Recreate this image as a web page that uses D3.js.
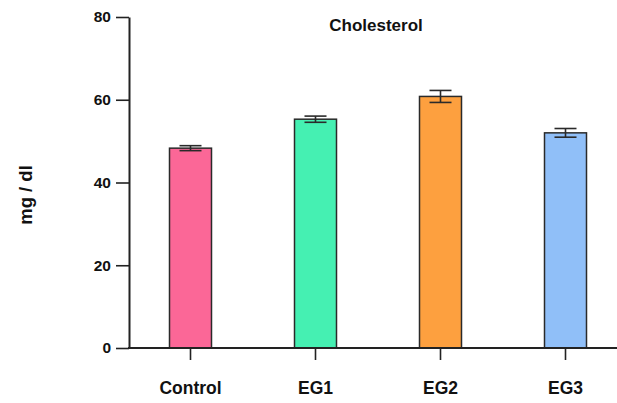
<!DOCTYPE html>
<html>
<head>
<meta charset="utf-8">
<script src="https://cdn.jsdelivr.net/npm/d3@7"></script>
<style>
  body { margin: 0; background: #fff; }
  svg text { font-family: "Liberation Sans", Arial, sans-serif; font-weight: bold; fill: #111; }
</style>
</head>
<body>
<div id="chart"></div>
<script>
const groups = ['Control', 'EG1', 'EG2', 'EG3'];
const means = [48.3, 55.3, 60.8, 52.0];
const errors = [0.6, 0.75, 1.45, 1.05];
const colors = ['#fb6797', '#45f0b2', '#fda03f', '#90bff8'];
const yTicks = [0, 20, 40, 60, 80];

const width = 617, height = 403;
const svg = d3.select('#chart').append('svg')
  .attr('width', width)
  .attr('height', height);

const x = d3.scaleBand()
  .domain(groups)
  .range([128, 628])
  .paddingInner(0.664)
  .paddingOuter(0.332);

const y = d3.scaleLinear().domain([0, 80]).range([348, 17]);

// y axis
const yAxis = svg.append('g')
  .attr('transform', 'translate(129,0)')
  .call(d3.axisLeft(y).tickValues(yTicks).tickSize(13).tickPadding(5).tickSizeOuter(0));
yAxis.select('.domain').attr('stroke', '#222').attr('stroke-width', 2);
yAxis.selectAll('.tick line').attr('stroke', '#222').attr('stroke-width', 1.6);
yAxis.selectAll('.tick text').style('font-size', '15.5px').attr('fill', '#111');

// bars
const bars = svg.append('g').attr('class', 'bars');
bars.selectAll('.bar')
  .data(groups)
  .enter()
  .append('rect')
  .attr('class', 'bar')
  .attr('x', d => x(d))
  .attr('y', (d, i) => y(means[i]))
  .attr('width', x.bandwidth())
  .attr('height', (d, i) => y(0) - y(means[i]))
  .attr('fill', (d, i) => colors[i])
  .attr('stroke', '#2a2a2a')
  .attr('stroke-width', 1.5);

// error bars
const capW = 11;
const err = svg.append('g').attr('class', 'errors')
  .attr('stroke', '#2a2a2a').attr('stroke-width', 1.6);
groups.forEach((g, i) => {
  const cx = x(g) + x.bandwidth() / 2;
  const top = y(means[i] + errors[i]);
  const bot = y(means[i] - errors[i]);
  err.append('line').attr('x1', cx).attr('x2', cx).attr('y1', top).attr('y2', bot);
  err.append('line').attr('x1', cx - capW).attr('x2', cx + capW).attr('y1', top).attr('y2', top);
  err.append('line').attr('x1', cx - capW).attr('x2', cx + capW).attr('y1', bot).attr('y2', bot);
});

// x axis
const xAxis = svg.append('g')
  .attr('transform', 'translate(0,348)')
  .call(d3.axisBottom(x).tickSize(12).tickPadding(22).tickSizeOuter(0));
xAxis.select('.domain').attr('stroke', '#222').attr('stroke-width', 2)
  .attr('d', 'M128,0H617');
xAxis.selectAll('.tick line').attr('stroke', '#222').attr('stroke-width', 1.6);
xAxis.selectAll('.tick text').style('font-size', '17.5px').attr('fill', '#111');

// title
svg.append('text')
  .attr('x', 376)
  .attr('y', 31)
  .attr('text-anchor', 'middle')
  .style('font-size', '17px')
  .text('Cholesterol');

// y label
svg.append('text')
  .attr('transform', 'translate(32,195) rotate(-90)')
  .attr('text-anchor', 'middle')
  .style('font-size', '18.5px')
  .text('mg / dl');
</script>
</body>
</html>
